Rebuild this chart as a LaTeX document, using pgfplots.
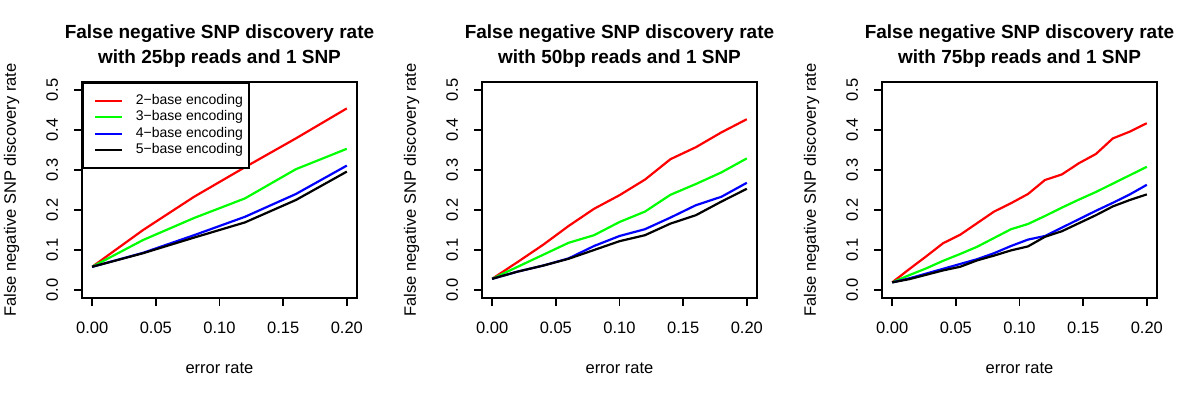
\documentclass[border=0pt]{standalone}
\usepackage{fontspec}
\setmainfont{Liberation Sans}
\usepackage{pgfplots}
\pgfplotsset{compat=1.18}
\usepackage{pgfplotstable}

% error rate vs false negative rate, one column per encoding
\pgfplotstableread{
x       c2     c3     c4     c5
0.00    0.058  0.058  0.058  0.058
0.04    0.150  0.125  0.093  0.092
0.08    0.233  0.180  0.137  0.131
0.12    0.307  0.229  0.183  0.169
0.16    0.379  0.302  0.240  0.225
0.20    0.454  0.353  0.311  0.296
}\tabA

\pgfplotstableread{
x       c2     c3     c4     c5
0.00    0.028  0.028  0.028  0.028
0.02    0.070  0.058  0.046  0.046
0.04    0.113  0.088  0.061  0.061
0.06    0.160  0.118  0.079  0.078
0.08    0.203  0.137  0.110  0.100
0.10    0.237  0.170  0.135  0.122
0.12    0.276  0.196  0.152  0.137
0.14    0.327  0.238  0.181  0.166
0.16    0.357  0.265  0.212  0.187
0.18    0.394  0.294  0.233  0.221
0.20    0.427  0.329  0.268  0.253
}\tabB

\pgfplotstableread{
x         c2     c3     c4     c5
0.000000  0.019  0.019  0.019  0.019
0.013333  0.052  0.037  0.029  0.027
0.026667  0.084  0.054  0.041  0.038
0.040000  0.117  0.073  0.053  0.049
0.053333  0.138  0.090  0.065  0.058
0.066667  0.167  0.108  0.077  0.074
0.080000  0.196  0.130  0.092  0.086
0.093333  0.217  0.152  0.110  0.099
0.106667  0.240  0.165  0.126  0.109
0.120000  0.275  0.185  0.135  0.133
0.133333  0.289  0.206  0.156  0.147
0.146667  0.317  0.226  0.177  0.167
0.160000  0.340  0.245  0.198  0.187
0.173333  0.379  0.266  0.218  0.209
0.186667  0.396  0.287  0.239  0.225
0.200000  0.417  0.308  0.263  0.239
}\tabC

\definecolor{rred}{RGB}{255,0,0}
\definecolor{rgreen}{RGB}{0,255,0}
\definecolor{rblue}{RGB}{0,0,255}

\pgfplotsset{
  rplot/.style={
    scale only axis, width=275bp, height=216bp,
    xmin=-0.008, xmax=0.208, ymin=-0.02, ymax=0.52,
    xtick={0,0.05,0.1,0.15,0.2},
    xticklabels={0.00,0.05,0.10,0.15,0.20},
    ytick={0,0.1,0.2,0.3,0.4,0.5},
    yticklabels={0.0,0.1,0.2,0.3,0.4,0.5},
    /pgf/number format/assume math mode=true,
    tick pos=left, tick align=outside, major tick length=8bp,
    every tick/.style={black, line width=1.6bp},
    axis line style={line width=2.2bp},
    ticklabel style={font=\fontsize{16.5bp}{19bp}\selectfont},
    xticklabel style={anchor=north, inner sep=0pt},
    yticklabel style={rotate=90, anchor=south, inner sep=0pt},
    xticklabel shift=16bp, yticklabel shift=15.7bp,
    label style={font=\fontsize{16.5bp}{19bp}\selectfont},
    xlabel={error rate},
    xlabel style={at={(axis description cs:0.5,-0.324)}, anchor=center, inner sep=0pt},
    ylabel={False negative SNP discovery rate},
    ylabel style={at={(axis description cs:-0.256,0.5)}, anchor=center, rotate=0, inner sep=0pt},
    title style={at={(axis description cs:0.5,1)}, anchor=south, yshift=8.5bp,
      inner sep=0pt, align=center, font=\fontsize{19bp}{25bp}\selectfont\bfseries},
    every axis plot/.append style={line width=2.2bp},
    legend image code/.code={\path (0bp,0bp); \draw[#1, line width=2.2bp] (4.7bp,0bp) -- (31.7bp,0bp);},
    legend cell align=left,
    legend style={at={(0,1)}, anchor=north west, draw=black, line width=2bp, fill=white,
      font=\fontsize{14bp}{16bp}\selectfont, inner xsep=6.3bp, inner ysep=11.25bp,
      row sep=3.5bp, column sep=12.7bp,
      nodes={inner sep=0pt, text height=10bp, text depth=3bp}},
  }
}

\begin{document}
\begin{tikzpicture}
\path (0bp,0bp) rectangle (1200bp,400bp);

\begin{axis}[rplot, at={(82bp,102bp)}, anchor=south west,
  title={False negative SNP discovery rate\\with 25bp reads and 1 SNP}]
\addplot[rred]   table[x=x,y=c2] {\tabA};
\addplot[rgreen] table[x=x,y=c3] {\tabA};
\addplot[rblue]  table[x=x,y=c4] {\tabA};
\addplot[black]  table[x=x,y=c5] {\tabA};
\legend{2−base encoding,3−base encoding,4−base encoding,5−base encoding}
\end{axis}

\begin{axis}[rplot, at={(482bp,102bp)}, anchor=south west,
  title={False negative SNP discovery rate\\with 50bp reads and 1 SNP}]
\addplot[rred]   table[x=x,y=c2] {\tabB};
\addplot[rgreen] table[x=x,y=c3] {\tabB};
\addplot[rblue]  table[x=x,y=c4] {\tabB};
\addplot[black]  table[x=x,y=c5] {\tabB};
\end{axis}

\begin{axis}[rplot, at={(882bp,102bp)}, anchor=south west,
  title={False negative SNP discovery rate\\with 75bp reads and 1 SNP}]
\addplot[rred]   table[x=x,y=c2] {\tabC};
\addplot[rgreen] table[x=x,y=c3] {\tabC};
\addplot[rblue]  table[x=x,y=c4] {\tabC};
\addplot[black]  table[x=x,y=c5] {\tabC};
\end{axis}
\end{tikzpicture}
\end{document}
